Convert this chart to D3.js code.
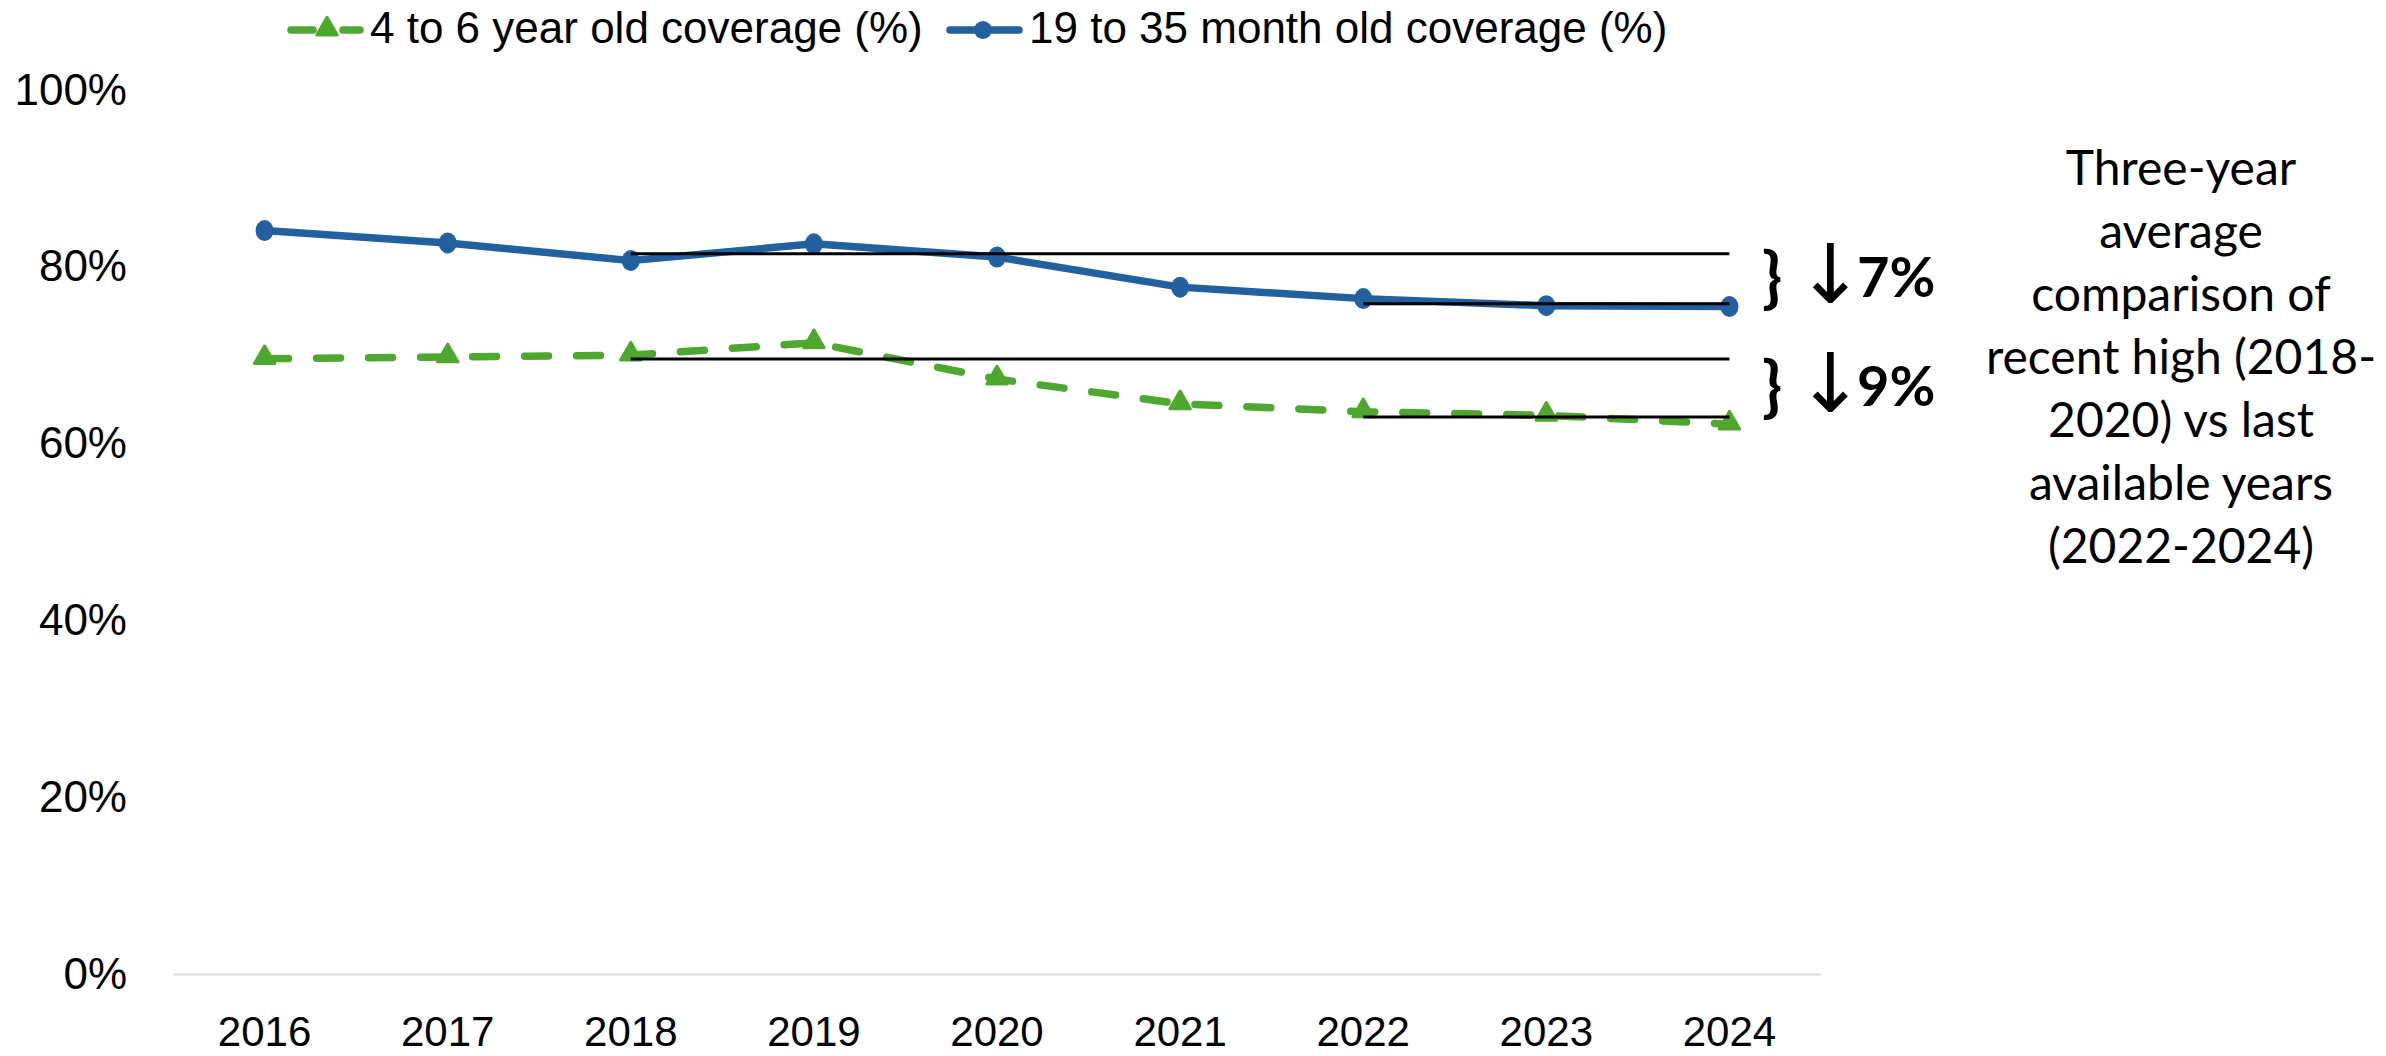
<!DOCTYPE html>
<html>
<head>
<meta charset="utf-8">
<script src="https://cdn.jsdelivr.net/npm/d3@7"></script>
<style>
  body { margin: 0; background: #fff; }
  svg { display: block; }
</style>
</head>
<body>
<div id="chart"></div>
<script>
// values
const years = [2016, 2017, 2018, 2019, 2020, 2021, 2022, 2023, 2024];
const coverage19to35 = [84.1, 82.7, 80.7, 82.6, 81.1, 77.7, 76.4, 75.6, 75.5];
const coverage4to6 = [69.6, 69.8, 70.0, 71.4, 67.3, 64.5, 63.6, 63.2, 62.2];
const yTicks = [0, 20, 40, 60, 80, 100];
const seriesNames = ['4 to 6 year old coverage (%)', '19 to 35 month old coverage (%)'];
const highYears = [2018, 2019, 2020];
const recentYears = [2022, 2023, 2024];
const dropLabels = ['7%', '9%'];
const noteLines = ['Three-year', 'average', 'comparison of', 'recent high (2018-', '2020) vs last', 'available years', '(2022-2024)'];

const width = 2386;
const height = 1056;
const blue = '#22609f';
const green = '#4ea72e';
const axisFont = '"Liberation Sans", Arial, sans-serif';
const noteFont = 'Lato, "Open Sans", sans-serif';

const svg = d3.select('#chart')
    .append('svg')
    .attr('width', width)
    .attr('height', height);

svg.append('rect')
    .attr('width', width)
    .attr('height', height)
    .attr('fill', '#fff');

const x = d3.scaleBand().domain(years).range([173, 1821]);
const y = d3.scaleLinear().domain([0, 100]).range([974, 90]);
const cx = yr => x(yr) + x.bandwidth() / 2;

// axes
const xAxis = svg.append('g')
    .attr('transform', `translate(0,${y(0)})`)
    .call(d3.axisBottom(x).tickSize(0).tickPadding(42));
xAxis.select('.domain').attr('stroke', '#d9d9d9').attr('stroke-width', 2);
xAxis.selectAll('text')
    .attr('font-family', axisFont)
    .attr('font-size', 42)
    .attr('fill', '#000');

const yAxis = svg.append('g')
    .attr('transform', 'translate(135,0)')
    .call(d3.axisLeft(y).tickValues(yTicks).tickFormat(d => d + '%').tickSize(0).tickPadding(8));
yAxis.select('.domain').remove();
yAxis.selectAll('text')
    .attr('font-family', axisFont)
    .attr('font-size', 44)
    .attr('fill', '#000');

const series = [
    {name: seriesNames[0], values: coverage4to6, color: green, dashed: true},
    {name: seriesNames[1], values: coverage19to35, color: blue, dashed: false}
];

const line = d3.line()
    .x((d, i) => cx(years[i]))
    .y(d => y(d));

series.forEach(s => {
    svg.append('path')
        .datum(s.values)
        .attr('fill', 'none')
        .attr('stroke', s.color)
        .attr('stroke-width', 7.5)
        .attr('stroke-linejoin', 'round')
        .attr('stroke-linecap', 'round')
        .attr('stroke-dasharray', s.dashed ? '24,28' : null)
        .attr('d', line);

    const pts = svg.append('g')
        .selectAll('path')
        .data(s.values)
        .enter();
    if (s.dashed) {
        pts.append('path')
            .attr('d', d3.symbol(d3.symbolTriangle, 180))
            .attr('transform', (d, i) => `translate(${cx(years[i])},${y(d) - 1})`)
            .attr('fill', s.color)
            .attr('stroke', s.color)
            .attr('stroke-width', 3)
            .attr('stroke-linejoin', 'round');
    } else {
        pts.append('ellipse')
            .attr('cx', (d, i) => cx(years[i]))
            .attr('cy', d => y(d))
            .attr('rx', 9)
            .attr('ry', 10.5)
            .attr('fill', s.color);
    }
});

// three-year averages
const avgOf = (vals, yrs) => d3.mean(yrs.map(yr => vals[years.indexOf(yr)]));
const refs = [
    {vals: coverage19to35, label: dropLabels[0]},
    {vals: coverage4to6, label: dropLabels[1]}
];

refs.forEach(r => {
    const hi = avgOf(r.vals, highYears);
    const lo = avgOf(r.vals, recentYears);
    svg.append('line')
        .attr('x1', cx(highYears[0])).attr('x2', cx(years[years.length - 1]))
        .attr('y1', y(hi)).attr('y2', y(hi))
        .attr('stroke', '#000').attr('stroke-width', 3);
    svg.append('line')
        .attr('x1', cx(recentYears[0])).attr('x2', cx(years[years.length - 1]))
        .attr('y1', y(lo)).attr('y2', y(lo))
        .attr('stroke', '#000').attr('stroke-width', 3);

    const base = (y(hi) + y(lo)) / 2 + 18;
    svg.append('text')
        .attr('x', 1762).attr('y', base + 4)
        .attr('font-family', noteFont)
        .attr('font-weight', 'bold')
        .attr('font-size', 66)
        .text('}');
    svg.append('text')
        .attr('x', 1796).attr('y', base + 6)
        .attr('font-family', '"DejaVu Sans", sans-serif')
        .attr('font-size', 82)
        .text('\u2193');
    svg.append('text')
        .attr('x', 1857).attr('y', base)
        .attr('font-family', noteFont)
        .attr('font-weight', 'bold')
        .attr('font-size', 56)
        .text(r.label);
});

// side note
const note = svg.append('text')
    .attr('font-family', noteFont)
    .attr('font-size', 48)
    .attr('fill', '#000')
    .attr('text-anchor', 'middle');
note.selectAll('tspan')
    .data(noteLines)
    .enter().append('tspan')
    .attr('x', 2181)
    .attr('y', (d, i) => 185 + i * 63)
    .text(d => d);

// legend
const legend = svg.append('g');
const legendItems = [
    {x0: 288, s: series[0]},
    {x0: 947, s: series[1]}
];
legendItems.forEach(li => {
    legend.append('line')
        .attr('x1', li.x0 + 3).attr('x2', li.x0 + 72)
        .attr('y1', 30).attr('y2', 30)
        .attr('stroke', li.s.color)
        .attr('stroke-width', 7.5)
        .attr('stroke-linecap', 'round')
        .attr('stroke-dasharray', li.s.dashed ? '22,30' : null);
    if (li.s.dashed) {
        legend.append('path')
            .attr('d', d3.symbol(d3.symbolTriangle, 180))
            .attr('transform', `translate(${li.x0 + 39},29)`)
            .attr('fill', li.s.color)
            .attr('stroke', li.s.color)
            .attr('stroke-width', 3)
            .attr('stroke-linejoin', 'round');
    } else {
        legend.append('circle')
            .attr('cx', li.x0 + 36).attr('cy', 30)
            .attr('r', 9)
            .attr('fill', li.s.color);
    }
    legend.append('text')
        .attr('x', li.x0 + 82).attr('y', 43)
        .attr('font-family', axisFont)
        .attr('font-size', 44)
        .attr('fill', '#000')
        .text(li.s.name);
});
</script>
</body>
</html>
